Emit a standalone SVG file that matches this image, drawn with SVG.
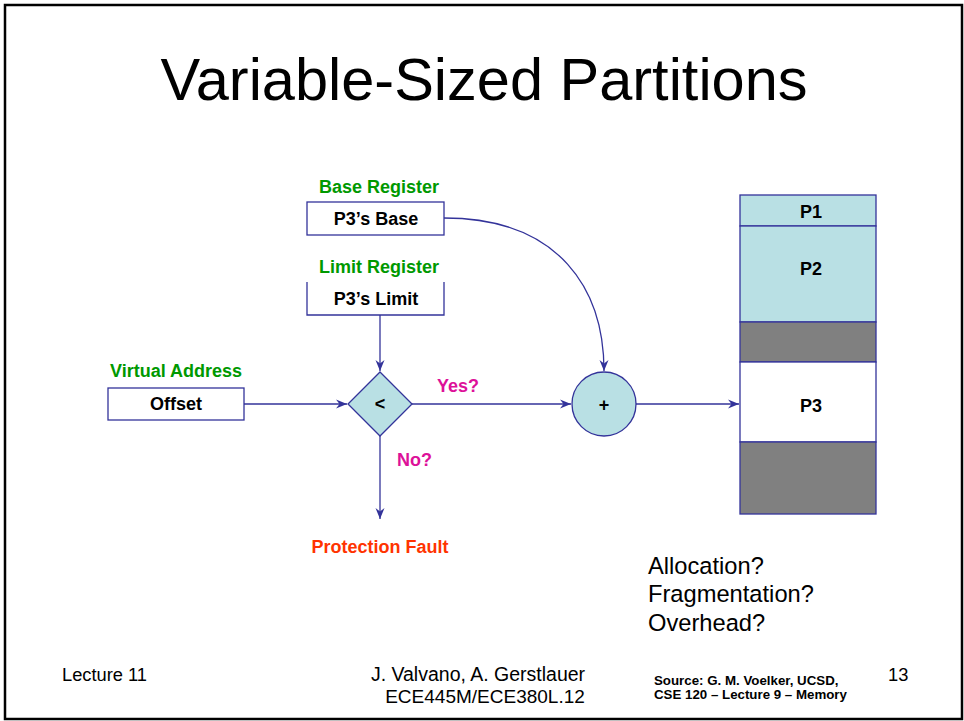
<svg xmlns="http://www.w3.org/2000/svg" width="964" height="721" viewBox="0 0 964 721">
<defs>
<style>
.t{font-family:"Liberation Sans",Arial,sans-serif}
.b{font-family:"Liberation Sans",Arial,sans-serif;font-weight:bold;font-size:18px}
.g{fill:#009900}
.m{fill:#dd1199}
.box{fill:#ffffff;stroke:#33339a;stroke-width:1.3}
.fillb{fill:#b9e0e4;stroke:#33339a;stroke-width:1.3}
.grey{fill:#808080;stroke:#33339a;stroke-width:1.3}
.c{fill:none;stroke:#33339a;stroke-width:1.3}
</style>
<marker id="ah" markerWidth="12" markerHeight="10" refX="11" refY="5" orient="auto" markerUnits="userSpaceOnUse">
<path d="M0,0.5 L11,5 L0,9.5 L3.5,5 Z" fill="#33339a"/>
</marker>
</defs>
<rect x="0" y="0" width="964" height="721" fill="#ffffff"/>
<rect x="5" y="5" width="957" height="714" fill="none" stroke="#000000" stroke-width="2.5"/>
<text class="t" x="484" y="100" font-size="59.5" text-anchor="middle">Variable-Sized Partitions</text>

<g id="connectors">
<path class="c" d="M444,218 C560,218 604,290 604,371" marker-end="url(#ah)"/>
<line class="c" x1="380" y1="315" x2="380" y2="371" marker-end="url(#ah)"/>
<line class="c" x1="244" y1="404" x2="347" y2="404" marker-end="url(#ah)"/>
<line class="c" x1="412" y1="404" x2="571" y2="404" marker-end="url(#ah)"/>
<line class="c" x1="380" y1="436" x2="380" y2="519" marker-end="url(#ah)"/>
<line class="c" x1="636" y1="404" x2="739" y2="404" marker-end="url(#ah)"/>
<text class="b m" x="437" y="392">Yes?</text>
<text class="b m" x="397" y="466">No?</text>
</g>

<g id="base">
<text class="b g" x="379" y="193" text-anchor="middle">Base Register</text>
<rect class="box" x="307" y="202" width="137" height="33"/>
<text class="b" x="376" y="225" text-anchor="middle">P3’s Base</text>
</g>

<g id="limit">
<text class="b g" x="379" y="273" text-anchor="middle">Limit Register</text>
<path class="box" d="M307,282 L307,315 L444,315 L444,282"/>
<text class="b" x="376" y="305" text-anchor="middle">P3’s Limit</text>
</g>

<g id="vaddr">
<text class="b g" x="176" y="377" text-anchor="middle">Virtual Address</text>
<rect class="box" x="108" y="388" width="136" height="32"/>
<text class="b" x="176" y="410" text-anchor="middle">Offset</text>
</g>

<g id="compare">
<path class="fillb" d="M380,372 L412,404 L380,436 L348,404 Z"/>
<text class="b" x="380" y="410" text-anchor="middle" font-size="20">&lt;</text>
</g>

<g id="adder">
<circle class="fillb" cx="604" cy="404" r="32"/>
<text class="b" x="604" y="411" text-anchor="middle" font-size="20">+</text>
</g>

<g id="fault">
<text class="b" x="380" y="553" text-anchor="middle" fill="#ff3300">Protection Fault</text>
</g>

<g id="memory">
<rect class="fillb" x="740" y="195" width="136" height="31"/>
<rect class="fillb" x="740" y="226" width="136" height="96"/>
<rect class="grey" x="740" y="322" width="136" height="40"/>
<rect class="box" x="740" y="362" width="136" height="80"/>
<rect class="grey" x="740" y="442" width="136" height="72"/>
<text class="b" x="811" y="218" text-anchor="middle">P1</text>
<text class="b" x="811" y="275" text-anchor="middle">P2</text>
<text class="b" x="811" y="412" text-anchor="middle">P3</text>
</g>

<g id="questions">
<text class="t" x="648" y="574" font-size="23.7">Allocation?</text>
<text class="t" x="648" y="602" font-size="23.7">Fragmentation?</text>
<text class="t" x="648" y="631" font-size="23.7">Overhead?</text>
</g>

<g id="footer">
<text class="t" x="62" y="681" font-size="18.3">Lecture 11</text>
<text class="t" x="478" y="681" font-size="19.5" text-anchor="middle">J. Valvano, A. Gerstlauer</text>
<text class="t" x="485" y="703" font-size="19" text-anchor="middle">ECE445M/ECE380L.12</text>
<text class="t" x="654" y="685" font-size="13.3" font-weight="bold">Source: G. M. Voelker, UCSD,</text>
<text class="t" x="654" y="699" font-size="13.3" font-weight="bold">CSE 120 – Lecture 9 – Memory</text>
<text class="t" x="888" y="681" font-size="18.3">13</text>
</g>
</svg>
